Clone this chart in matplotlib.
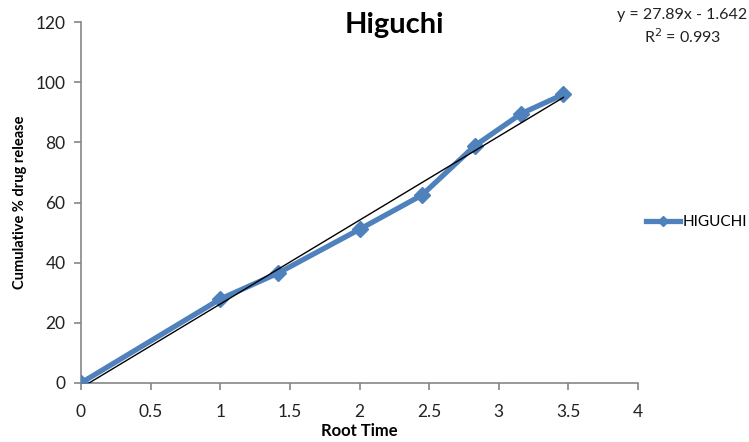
import matplotlib
matplotlib.use("Agg")
import matplotlib.pyplot as plt
import numpy as np

# data
root_time = [0, 1, 1.414, 2, 2.449, 2.828, 3.162, 3.464]
release = [0, 27.9, 36.5, 51.1, 62.5, 78.9, 89.6, 96.0]
slope, intercept = 27.89, -1.642
x_ticks = [0, 0.5, 1, 1.5, 2, 2.5, 3, 3.5, 4]
y_ticks = [0, 20, 40, 60, 80, 100, 120]

plt.rcParams["font.family"] = ["Lato", "DejaVu Sans"]

fig = plt.figure(figsize=(7.49, 4.42), dpi=100)
ax = fig.add_axes([0.108, 0.1335, 0.744, 0.8165])

blue = "#4f81bd"
ax.plot(root_time, release, color=blue, lw=3.8, marker="D", ms=8,
        mfc=blue, mec=blue, label="HIGUCHI", zorder=3)
fit_x = np.array([root_time[0], root_time[-1]])
ax.plot(fit_x, slope * fit_x + intercept, color="black", lw=1, zorder=4)

ax.set_xlim(0, 4)
ax.set_ylim(0, 120)
ax.set_xticks(x_ticks)
ax.set_xticklabels([f"{t:g}" for t in x_ticks])
ax.set_yticks(y_ticks)
for side in ["top", "right"]:
    ax.spines[side].set_visible(False)
for side in ["left", "bottom"]:
    ax.spines[side].set_color("#868686")
    ax.spines[side].set_linewidth(1.2)
ax.tick_params(colors="#868686", labelcolor="#222222", labelsize=12.5, length=5, width=1.2)
ax.tick_params(axis="x", pad=10)
ax.tick_params(axis="y", pad=6)

ax.set_xlabel("Root Time", fontsize=12, fontweight="bold", labelpad=2)
ax.set_ylabel("Cumulative % drug release", fontsize=10.5, fontweight="bold", labelpad=6)
fig.text(0.526, 0.943, "Higuchi", ha="center", va="center", fontsize=21, fontweight="bold")

fig.text(0.911, 0.966, "y = 27.89x - 1.642", ha="center", va="center", fontsize=11.5, color="#222222")
fig.text(0.912, 0.916, "R$^2$ = 0.993", ha="center", va="center", fontsize=11.5, color="#222222")

ax.legend(loc="center left", bbox_to_anchor=(0.99, 0.446), frameon=False, fontsize=11,
          handlelength=2.2, handletextpad=0.2, markerscale=0.7)

fig.savefig("out.png", dpi=100)
